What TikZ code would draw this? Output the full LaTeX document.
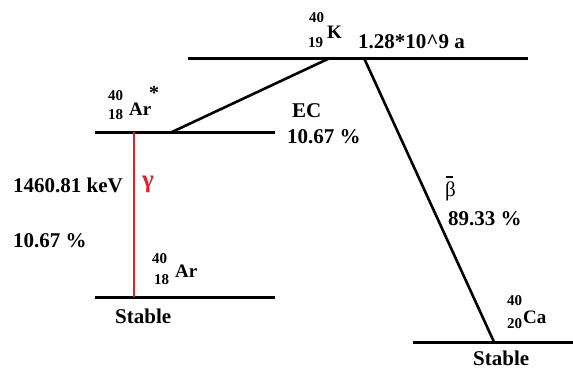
\documentclass[tikz,border=0pt]{standalone}
\usepackage{fontspec}
\setmainfont{Liberation Serif}
\begin{document}
\begin{tikzpicture}[x=1pt,y=-1pt,
  lvl/.style={line width=3pt},
  tr/.style={line width=2.6pt},
  gam/.style={line width=2pt,draw={rgb,255:red,226;green,30;blue,40}},
  lab/.style={anchor=base west,inner sep=0pt,font=\fontsize{21}{24}\selectfont\bfseries},
  sym/.style={anchor=base west,inner sep=0pt,font=\fontsize{19}{22}\selectfont\bfseries},
  num/.style={anchor=base west,inner sep=0pt,font=\fontsize{15}{17}\selectfont\bfseries}]
\useasboundingbox (0,0) rectangle (573,372);
% level end points
\coordinate (K1) at (188,58);  \coordinate (K2) at (528,58);
\coordinate (As1) at (95,132); \coordinate (As2) at (275,132);
\coordinate (A1) at (95,297);  \coordinate (A2) at (275,297);
\coordinate (C1) at (413,342); \coordinate (C2) at (573,342);
\coordinate (ECa) at (330,58); \coordinate (ECb) at (172,132);
\coordinate (Ba) at (364,58);  \coordinate (Bb) at (494,342);
\coordinate (Ga) at (134,132); \coordinate (Gb) at (134,297);
% levels
\draw[lvl] (K1) -- (K2);
\draw[lvl] (As1) -- (As2);
\draw[lvl] (A1) -- (A2);
\draw[lvl] (C1) -- (C2);
% transitions
\draw[tr] (ECa) -- (ECb);
\draw[tr] (Ba) -- (Bb);
\draw[gam] (Ga) -- (Gb);
% K
\node[num] (k40) at (309,23) {40};
\node[num] (k19) at (308,47) {19};
\node[sym] (kK) at (327,38) {K};
\node[lab] (khl) at (358,48) {1.28*10\^{}9 a};
% Ar*
\node[num] (as40) at (108,100) {40};
\node[num] (as18) at (108,119) {18};
\node[sym] (asAr) at (129,115) {Ar};
\node[anchor=base west,inner sep=0pt,font=\fontsize{20}{22}\selectfont\bfseries] (asst) at (149,99) {*};
% EC
\node[lab] (ec) at (292,117) {EC};
\node[lab] (ecp) at (287,143) {10.67 \%};
% gamma
\node[lab] (ge) at (13,192) {1460.81 keV};
\node[anchor=base west,inner sep=0pt,font=\fontsize{25}{27}\selectfont\bfseries,text={rgb,255:red,226;green,30;blue,40}] (gg) at (142,187) {γ};
\node[lab] (gp) at (13,247) {10.67 \%};
% Ar ground
\node[num] (a40) at (152,263) {40};
\node[num] (a18) at (154,284) {18};
\node[sym] (aAr) at (175,277) {Ar};
\node[lab] (ast) at (115,323) {Stable};
% beta
\node[anchor=base west,inner sep=0pt,font=\fontsize{21}{24}\selectfont] (bb) at (445,196) {β};
\draw[line width=1.5pt] ([xshift=1pt]bb.north west) ++(0,-4) -- ++(7,0);
\node[lab] (bp) at (448,225) {89.33 \%};
% Ca
\node[num] (c40) at (507,305) {40};
\node[num] (c20) at (507,328) {20};
\node[sym] (cCa) at (523,323) {Ca};
\node[lab] (cst) at (473,365) {Stable};
\end{tikzpicture}
\end{document}
